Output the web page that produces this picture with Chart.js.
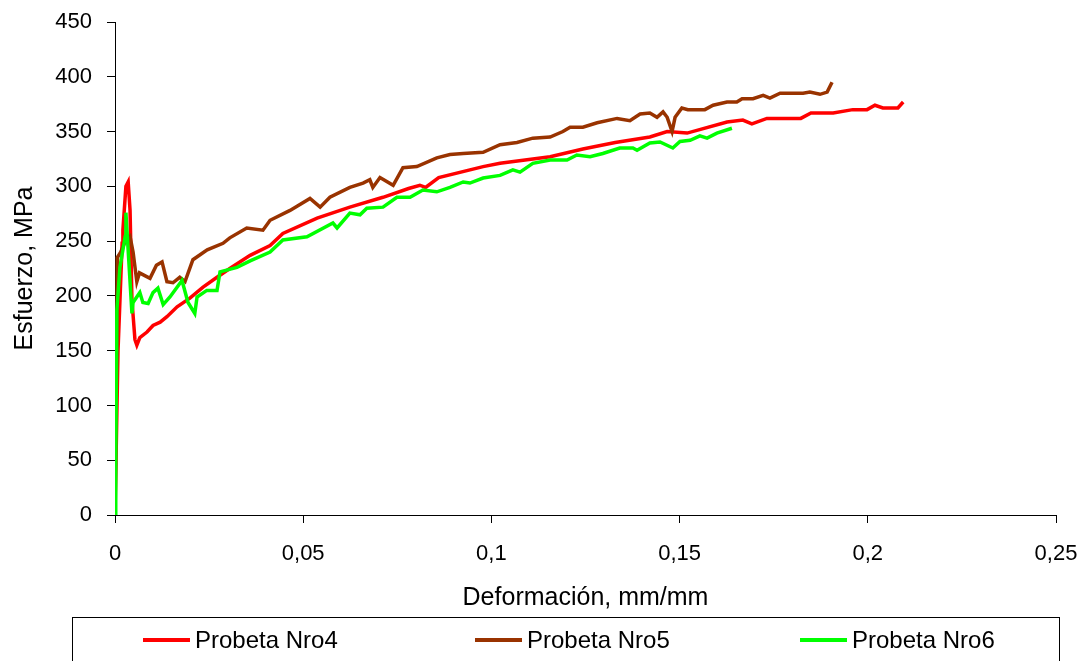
<!DOCTYPE html>
<html>
<head>
<meta charset="utf-8">
<script src="https://cdn.jsdelivr.net/npm/chart.js@4.4.1/dist/chart.umd.min.js"></script>
<style>
  html, body { margin: 0; padding: 0; background: #fff; }
  #wrap { position: relative; width: 1084px; height: 661px; overflow: hidden; }
  #legend {
    position: absolute; left: 72px; top: 617px; width: 988px; height: 60px;
    border: 1px solid #000; box-sizing: border-box;
    font-family: "Liberation Sans", Arial, sans-serif; font-size: 24px; color: #000;
  }
  .item { position: absolute; top: 8px; display: flex; align-items: center; }
  .swatch { width: 47px; height: 4px; margin-right: 5px; }
</style>
</head>
<body>
<div id="wrap">
  <canvas id="stressChart" width="1084" height="661"></canvas>
  <div id="legend"></div>
</div>
<script>
// Curvas esfuerzo-deformación [deformación, esfuerzo]
const nro4 = [
  [0, 0], [0.0008, 150], [0.0019, 248], [0.0021, 260], [0.0029, 300], [0.0035, 304],
  [0.0040, 278], [0.0045, 196], [0.0053, 160], [0.0058, 155], [0.0066, 162], [0.0085, 167],
  [0.0101, 173], [0.0120, 176], [0.0138, 181], [0.0165, 190], [0.0199, 198], [0.0234, 208],
  [0.0271, 217], [0.0305, 225], [0.0359, 237], [0.0412, 246], [0.0446, 257], [0.0537, 271],
  [0.0624, 281], [0.0712, 290], [0.0780, 298], [0.0810, 301], [0.0825, 299], [0.0860, 308],
  [0.0978, 318], [0.1023, 321], [0.1110, 325], [0.1156, 327], [0.1243, 334], [0.1329, 340],
  [0.1421, 345], [0.1467, 350], [0.1520, 348.6], [0.1626, 358.7], [0.1668, 360.5], [0.1692, 357],
  [0.1732, 362], [0.1822, 362], [0.1849, 367], [0.1908, 367], [0.1960, 370], [0.1998, 370],
  [0.2019, 374], [0.2040, 371.5], [0.2080, 371.5], [0.2094, 377]
];
const nro5 = [
  [0, 0], [0.0005, 150], [0.0006, 235], [0.0015, 240], [0.0025, 248], [0.0040, 254],
  [0.0048, 240], [0.0058, 213], [0.0065, 221], [0.0093, 216], [0.0110, 228], [0.0125, 231],
  [0.0138, 213], [0.0154, 212], [0.0172, 217], [0.0186, 213], [0.0207, 233], [0.0245, 242],
  [0.0287, 248], [0.0305, 253], [0.0350, 262], [0.0393, 260], [0.0412, 269], [0.0465, 278],
  [0.0518, 289], [0.0545, 281], [0.0571, 290], [0.0624, 299], [0.0659, 303], [0.0677, 306],
  [0.0685, 299], [0.0704, 308], [0.0739, 301], [0.0765, 317], [0.0802, 318], [0.0855, 326],
  [0.0890, 329], [0.0925, 330], [0.0978, 331], [0.1023, 338], [0.1068, 340], [0.1110, 344],
  [0.1156, 345], [0.1190, 350], [0.1209, 354], [0.1243, 354], [0.1281, 358], [0.1334, 362],
  [0.1368, 360], [0.1395, 366], [0.1421, 367], [0.1440, 363], [0.1456, 368], [0.1467, 363],
  [0.1480, 350], [0.1488, 363], [0.1506, 371.5], [0.1522, 370], [0.1567, 370], [0.1589, 374],
  [0.1626, 377], [0.1652, 377], [0.1666, 380], [0.1695, 380], [0.1722, 383], [0.1740, 380.6],
  [0.1767, 385], [0.1828, 385], [0.1846, 386], [0.1873, 384], [0.1892, 386], [0.1905, 395]
];
const nro6 = [
  [0, 0], [0.0002, 50], [0.0005, 187], [0.0013, 226], [0.0027, 254], [0.0029, 276],
  [0.0045, 184], [0.0048, 194], [0.0066, 203], [0.0074, 194], [0.0088, 193], [0.0101, 203],
  [0.0114, 207], [0.0128, 192], [0.0146, 199], [0.0178, 214], [0.0194, 194], [0.0212, 184],
  [0.0218, 199], [0.0244, 205], [0.0271, 205], [0.0279, 222], [0.0324, 226], [0.0359, 232],
  [0.0412, 240], [0.0446, 251], [0.0510, 254], [0.0579, 266.5], [0.0590, 262], [0.0624, 275.6],
  [0.0651, 274], [0.0669, 280], [0.0712, 281], [0.0749, 290], [0.0784, 290], [0.0818, 296.6],
  [0.0855, 295], [0.0890, 299], [0.0925, 304], [0.0943, 303], [0.0978, 307.6], [0.1023, 310],
  [0.1057, 315], [0.1076, 313], [0.1110, 321], [0.1156, 324], [0.1201, 324], [0.1227, 328.6],
  [0.1262, 327], [0.1296, 330], [0.1341, 335], [0.1376, 335], [0.1387, 333], [0.1421, 339.5],
  [0.1448, 340.5], [0.1482, 335], [0.1501, 341], [0.1528, 342], [0.1554, 346], [0.1573, 344],
  [0.1599, 348.6], [0.1639, 353]
];

const seriesNames = ['Probeta Nro4', 'Probeta Nro5', 'Probeta Nro6'];
const seriesColors = ['#FF0000', '#993300', '#00FF00'];

const FONT = '"Liberation Sans", Arial, sans-serif';
const toPoints = arr => arr.map(p => ({ x: p[0], y: p[1] }));

const ctx = document.getElementById('stressChart');
const chart = new Chart(ctx, {
    type: 'scatter',
    data: {
        datasets: [nro4, nro5, nro6].map((s, i) => ({
            label: seriesNames[i],
            data: toPoints(s),
            showLine: true,
            borderColor: seriesColors[i],
            backgroundColor: seriesColors[i],
            borderWidth: 3.5,
            pointRadius: 0,
            tension: 0,
            order: 2 - i
        }))
    },
    options: {
        responsive: false,
        animation: false,
        layout: { padding: { top: 22, right: 28, left: 0, bottom: 0 } },
        plugins: { legend: { display: false }, tooltip: { enabled: false } },
        scales: {
            x: {
                type: 'linear', min: 0, max: 0.25,
                afterFit: s => { s.height = 146; s.paddingLeft = 0; s.paddingRight = 0; },
                ticks: {
                    stepSize: 0.05, color: '#000', padding: 18,
                    font: { family: FONT, size: 22 },
                    callback: v => String(+v.toFixed(2)).replace('.', ',')
                },
                grid: { drawOnChartArea: false, drawTicks: true, tickLength: 8, color: '#000' },
                border: { color: '#000', width: 1 },
                title: {
                    display: true, text: 'Deformación, mm/mm', color: '#000',
                    font: { family: FONT, size: 25 }, padding: { top: 0, bottom: 48 }
                }
            },
            y: {
                min: 0, max: 450,
                afterFit: s => { s.width = 115; s.paddingTop = 0; s.paddingBottom = 0; },
                ticks: {
                    stepSize: 50, color: '#000', padding: 15,
                    font: { family: FONT, size: 22 }
                },
                grid: { drawOnChartArea: false, drawTicks: true, tickLength: 8, color: '#000' },
                border: { color: '#000', width: 1 },
                title: {
                    display: true, text: 'Esfuerzo, MPa', color: '#000',
                    font: { family: FONT, size: 25 }, padding: { top: 10, bottom: 0 }
                }
            }
        }
    }
});

// Leyenda en HTML con recuadro, como en el original
const legendEl = document.getElementById('legend');
const legendLeft = [70, 402, 727];
chart.data.datasets.forEach((ds, i) => {
    const item = document.createElement('div');
    item.className = 'item';
    item.style.left = legendLeft[i] + 'px';
    item.innerHTML = '<span class="swatch" style="background:' + ds.borderColor + '"></span>' + ds.label;
    legendEl.appendChild(item);
});
</script>
</body>
</html>
